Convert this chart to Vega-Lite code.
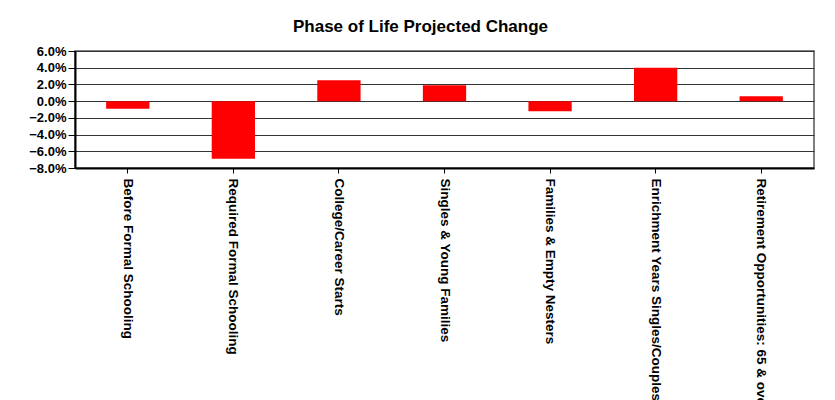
{
  "$schema": "https://vega.github.io/schema/vega-lite/v6.json",
  "width": 739,
  "height": 117,
  "padding": {"left": 0, "right": 21, "top": 18, "bottom": 0},
  "background": "white",
  "title": {
    "text": "Phase of Life Projected Change",
    "font": "Liberation Sans",
    "fontSize": 17,
    "fontWeight": "bold",
    "color": "black",
    "anchor": "middle",
    "dx": -24,
    "offset": 9
  },
  "data": {
    "values": [
      {"phase": "Before Formal Schooling", "change": -0.009},
      {"phase": "Required Formal Schooling", "change": -0.069},
      {"phase": "College/Career Starts", "change": 0.025},
      {"phase": "Singles & Young Families", "change": 0.019},
      {"phase": "Families & Empty Nesters", "change": -0.012},
      {"phase": "Enrichment Years Singles/Couples", "change": 0.04},
      {"phase": "Retirement Opportunities: 65 & over", "change": 0.006}
    ]
  },
  "mark": {"type": "bar", "color": "#FF0000"},
  "encoding": {
    "x": {
      "field": "phase",
      "type": "nominal",
      "sort": null,
      "title": null,
      "scale": {"paddingInner": 0.59, "paddingOuter": 0.295},
      "axis": {
        "labelAngle": 90,
        "labelAlign": "left",
        "labelBaseline": "middle",
        "labelFont": "Liberation Sans",
        "labelFontSize": 13.5,
        "labelFontWeight": "bold",
        "labelColor": "black",
        "labelLimit": 400,
        "labelPadding": 5,
        "tickSize": 5,
        "tickColor": "black",
        "domainColor": "black",
        "domainWidth": 2,
        "minExtent": 232,
        "maxExtent": 232
      }
    },
    "y": {
      "field": "change",
      "type": "quantitative",
      "title": null,
      "scale": {"domain": [-0.08, 0.06], "nice": false, "zero": false},
      "axis": {
        "values": [-0.08, -0.06, -0.04, -0.02, 0, 0.02, 0.04, 0.06],
        "format": ".1%",
        "labelFont": "Liberation Sans",
        "labelFontSize": 13,
        "labelFontWeight": "bold",
        "labelColor": "black",
        "labelPadding": 2,
        "tickSize": 7,
        "tickColor": "black",
        "domainColor": "black",
        "domainWidth": 2,
        "grid": true,
        "gridColor": "#333333",
        "gridWidth": 1,
        "gridOpacity": 1,
        "minExtent": 75,
        "maxExtent": 75
      }
    }
  },
  "config": {
    "view": {"stroke": "#555555", "strokeWidth": 1.5}
  }
}
